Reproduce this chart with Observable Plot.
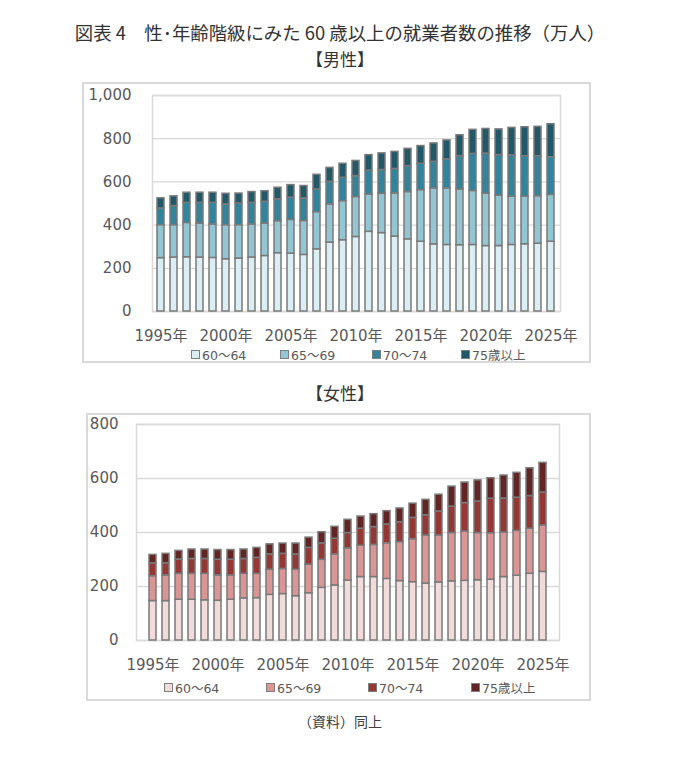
<!DOCTYPE html>
<html lang="ja">
<head>
<meta charset="utf-8">
<script src="https://cdn.jsdelivr.net/npm/d3@7"></script>
<script src="https://cdn.jsdelivr.net/npm/@observablehq/plot@0.6"></script>
<style>
  html, body { margin: 0; padding: 0; background: #fff; }
  #page { position: relative; width: 680px; height: 761px; font-family: "Noto Sans CJK JP", "Noto Sans", sans-serif; color: #404040; }
  .abs { position: absolute; }
  .title { left: 0; width: 680px; text-align: center; font-size: 18.4px; color: #333; white-space: nowrap; }
  .frame { border: 2px solid #d9d9d9; box-sizing: border-box; }
  .leg { font-family: "DejaVu Sans", "Noto Sans CJK JP", sans-serif; font-size: 12.5px; color: #595959; white-space: nowrap; display: flex; align-items: center; }
  .sw { display: inline-block; width: 7px; height: 7px; border: 1px solid #7f7f7f; margin-right: 2px; }
</style>
</head>
<body>
<div id="page"></div>
<script>
// ---- data (万人) ----
const years = d3.range(1995, 2026);
const ageGroups = ["60～64", "65～69", "70～74", "75歳以上"];

const male6064 = [247,250,251,250,248,242,245,250,257,270,268,262,288,319,330,345,369,363,347,334,323,311,308,307,308,303,303,308,311,314,323];
const male6569 = [153,150,159,157,155,158,155,153,150,148,156,157,172,177,181,185,173,182,200,219,239,259,262,258,250,243,233,224,221,220,217];
const male7074 = [77,88,93,96,100,96,100,100,101,101,103,105,105,104,108,97,110,110,113,120,122,123,134,154,172,185,188,191,187,185,174];
const male75up = [47,45,47,47,47,49,46,50,49,54,58,57,68,65,65,70,72,77,79,80,82,85,88,97,111,114,119,127,134,136,153];

const female6064 = [146,146,151,151,149,147,151,156,157,169,172,164,175,195,204,222,235,235,228,220,216,211,215,219,221,223,225,235,240,247,254];
const female6569 = [92,95,96,96,98,94,90,91,90,93,93,98,106,104,115,119,116,119,132,144,159,178,174,179,183,175,172,165,166,167,172];
const female7074 = [48,45,53,55,55,58,58,55,59,57,56,57,62,61,58,57,63,66,70,74,79,75,89,98,105,117,128,126,123,121,122];
const female75up = [31,35,32,35,35,36,36,35,37,37,38,40,38,41,44,49,45,48,49,51,53,57,62,74,76,78,76,85,92,103,110];

const maleTicks = [0, 200, 400, 600, 800, 1000];
const femaleTicks = [0, 200, 400, 600, 800];
const xTickYears = [1995, 2000, 2005, 2010, 2015, 2020, 2025];

const maleColors = ["#dbeef3", "#93c5d2", "#31849b", "#215968"];
const femaleColors = ["#f2dcdb", "#d99694", "#953735", "#632523"];

function rowsFrom(series) {
  const rows = [];
  years.forEach((yr, i) => {
    ageGroups.forEach((g, k) => rows.push({year: yr, age: g, value: series[k][i]}));
  });
  return rows;
}
const maleRows = rowsFrom([male6064, male6569, male7074, male75up]);
const femaleRows = rowsFrom([female6064, female6569, female7074, female75up]);

const page = document.getElementById("page");
function addDiv(cls, style, html) {
  const d = document.createElement("div");
  d.className = cls;
  Object.assign(d.style, style);
  if (html != null) d.innerHTML = html;
  page.appendChild(d);
  return d;
}

function makeChart(rows, colors, ticks, maxY, opts) {
  return Plot.plot({
    width: opts.width,
    height: opts.height,
    marginLeft: opts.ml,
    marginRight: opts.mr,
    marginTop: opts.mt,
    marginBottom: opts.mb,
    style: {fontFamily: "DejaVu Sans, Noto Sans CJK JP, sans-serif", fontSize: "15px", color: "#595959", background: "transparent", overflow: "visible"},
    x: {type: "band", domain: years, paddingInner: 0.46, paddingOuter: 0.23, label: null, axis: null},
    y: {domain: [0, maxY], label: null, axis: null},
    color: {domain: ageGroups, range: colors},
    marks: [
      Plot.gridY(ticks, {stroke: "#d9d9d9", strokeOpacity: 1, strokeWidth: 1.3}),
      Plot.frame({stroke: "#d9d9d9", strokeWidth: 1.5}),
      Plot.barY(rows, {x: "year", y: "value", fill: "age", stroke: "#7a7a7a", strokeWidth: 1.5}),
      Plot.axisY(ticks, {tickSize: 0, tickPadding: opts.yPad, tickFormat: d3.format(","), label: null, fontSize: 15}),
      Plot.axisX(xTickYears, {tickSize: 0, tickPadding: opts.xPad, tickFormat: d => d + "年", label: null, fontSize: 15})
    ]
  });
}

// title
addDiv("abs title", {top: "19px"}, "図表 4　性･年齢階級にみた 60 歳以上の就業者数の推移（万人）");
addDiv("abs title", {top: "46px", fontSize: "17px"}, "【男性】");

// male chart
addDiv("abs frame", {left: "82px", top: "82px", width: "509px", height: "281px"});
const m = makeChart(maleRows, maleColors, maleTicks, 1000, {width: 509, height: 265, ml: 70, mr: 31, mt: 13, mb: 36, yPad: 21, xPad: 19});
const mw = addDiv("abs", {left: "82px", top: "82px"});
mw.appendChild(m);

function legend(colors, xs, top) {
  ageGroups.forEach((g, k) => {
    addDiv("abs leg", {left: xs[k] + "px", top: top + "px"},
      `<span class="sw" style="background:${colors[k]}"></span>${g}`);
  });
}
legend(maleColors, [191, 280, 372, 461], 345);

// female
addDiv("abs title", {top: "380px", fontSize: "17px"}, "【女性】");
addDiv("abs frame", {left: "86px", top: "413px", width: "505px", height: "288px"});
const f = makeChart(femaleRows, femaleColors, femaleTicks, 800, {width: 505, height: 265, ml: 50, mr: 32, mt: 11, mb: 38, yPad: 18, xPad: 19});
const fw = addDiv("abs", {left: "86px", top: "413px"});
fw.appendChild(f);
legend(femaleColors, [164, 266, 368, 471], 678);

// source
addDiv("abs title", {top: "711px", fontSize: "14px", color: "#404040"}, "（資料）同上");
</script>
</body>
</html>
